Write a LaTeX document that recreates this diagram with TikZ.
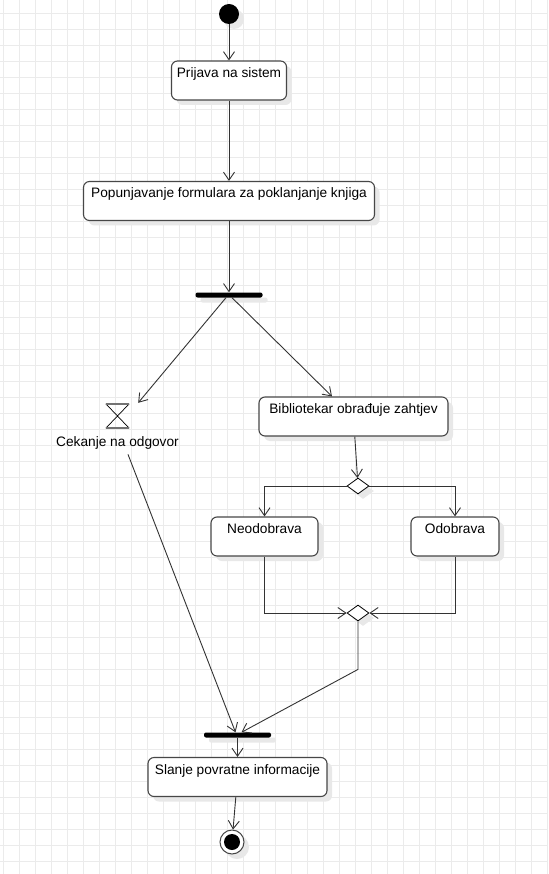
\documentclass[tikz,border=0pt]{standalone}
\usepackage{fontspec}
\setmainfont{Liberation Sans}
\usetikzlibrary{shapes.geometric,arrows.meta,shadows}
\definecolor{gridgray}{HTML}{EBEBEB}
\definecolor{edge}{HTML}{474747}
\tikzstyle{softshadow} = [drop shadow={shadow xshift=5pt, shadow yshift=-5pt, fill=black!9, opacity=1}]
\tikzstyle{action} = [rectangle, rounded corners=6pt, draw=edge, line width=1.1pt, fill=white, text height=12pt, text depth=18pt, inner xsep=4pt, inner ysep=4.5pt, font=\fontsize{13.7}{16}\selectfont, softshadow]
\tikzstyle{bar} = [rectangle, rounded corners=2pt, fill=black, minimum width=67pt, minimum height=5pt, inner sep=0pt, softshadow]
\tikzstyle{decision} = [diamond, draw=black, line width=0.8pt, fill=white, minimum width=22pt, minimum height=16pt, inner sep=0pt, softshadow]
\tikzstyle{arrow} = [line width=0.9pt, draw=black!80, -{Straight Barb[length=8pt, width=11pt]}]
\tikzstyle{gridline} = [gridgray, line width=1pt]

\begin{document}
\begin{tikzpicture}[x=1pt, y=-1pt, node distance=2cm]
                \useasboundingbox (0,0) rectangle (548,874);
                \fill[white] (0,0) rectangle (548,874);
                \foreach \i in {0,...,34} \draw[gridline] (3.5+16*\i,0) -- (3.5+16*\i,874);
                \foreach \j in {0,...,53} \draw[gridline] (0,13.5+16*\j) -- (548,13.5+16*\j);

                \node (start) [circle, fill=black, minimum size=20pt, inner sep=0pt, softshadow] at (229,14) {};
                \node (login) [action, minimum width=115pt, below of=start, node distance=66.5pt] {Prijava na sistem};
                \node (form) [action, minimum width=291pt, below of=login, node distance=120.5pt] {Popunjavanje formulara za poklanjanje knjiga};
                \node (fork) [bar, below of=form, node distance=94pt] {};
                \node (wait) [minimum width=23pt, minimum height=24pt, inner sep=0pt] at (117.5,416) {};
                \node (waitlabel) [anchor=base, font=\fontsize{13.7}{16}\selectfont] at (117.5,446) {Cekanje na odgovor};
                \node (review) [action, minimum width=189pt] at (353.5,416.5) {Bibliotekar obrađuje zahtjev};
                \node (decision) [decision] at (358,486) {};
                \node (reject) [action, minimum width=107pt] at (264.5,536.5) {Neodobrava};
                \node (approve) [action, minimum width=88pt] at (455,536.5) {Odobrava};
                \node (merge) [decision] at (358,613) {};
                \node (join) [bar] at (237.5,735) {};
                \node (reply) [action, minimum width=179pt, below of=join, node distance=42pt] {Slanje povratne informacije};
                \node (end) [circle, draw=edge, line width=1pt, fill=white, minimum size=24pt, inner sep=0pt, softshadow] at (232,842) {};
                \fill (end) circle (8);

                \draw[line width=0.7pt] (wait.north west) -- (wait.south east) (wait.north east) -- (wait.south west);
                \draw[black!55, line width=1.5pt] (wait.north west) -- (wait.north east) (wait.south west) -- (wait.south east);

                \draw [arrow] (start) -- (login);
                \draw [arrow] (login) -- (form);
                \draw [arrow] (form) -- (fork);
                \draw [arrow] ([xshift=-3pt]fork.south) -- ([xshift=9pt, yshift=1pt]wait.north east);
                \draw [arrow] ([xshift=3pt]fork.south) -- ([xshift=-21.5pt]review.north);
                \draw [arrow] (review) -- (decision);
                \draw [arrow] (decision.west) -| (reject.north);
                \draw [arrow] (decision.east) -| (approve.north);
                \draw [arrow] (reject.south) -- (reject.south |- merge.west) -- (merge.west);
                \draw [arrow] (approve.south) -- (approve.south |- merge.east) -- (merge.east);
                \draw [arrow] (merge.south) -- ++(0,48) -- ([xshift=4pt]join.north);
                \draw [arrow] ([xshift=10.5pt, yshift=-2pt]waitlabel.south) -- ([xshift=-2pt]join.north);
                \draw [arrow] (join) -- (reply);
                \draw [arrow] (reply) -- (end);
            \end{tikzpicture}
\end{document}
